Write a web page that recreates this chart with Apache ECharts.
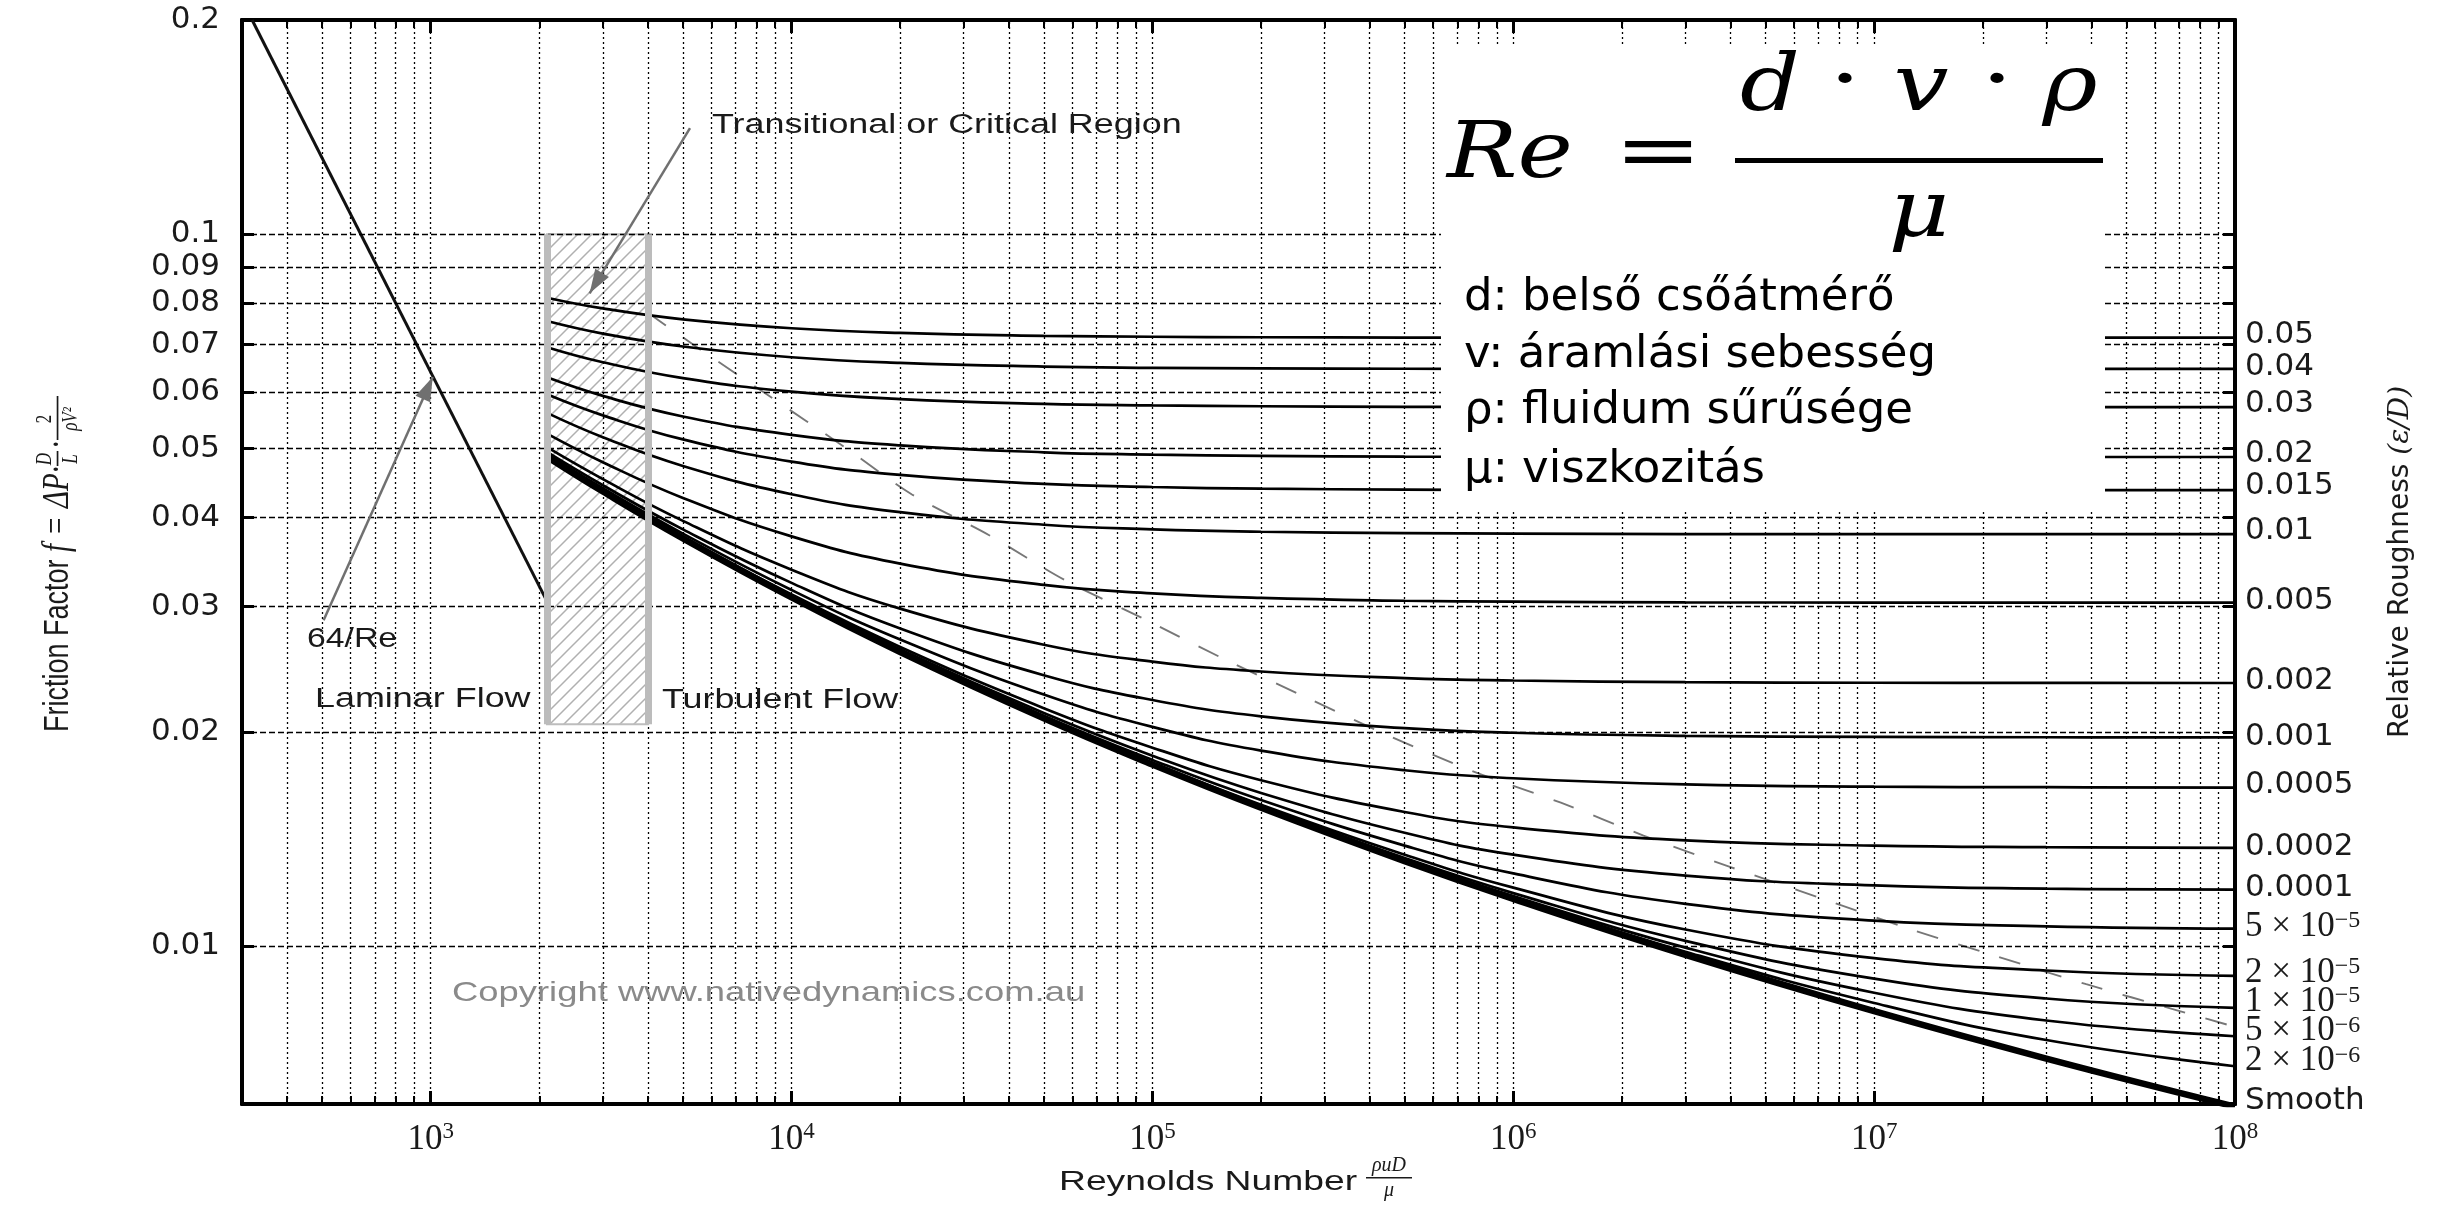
<!DOCTYPE html>
<html><head><meta charset="utf-8">
<script src="https://cdn.jsdelivr.net/npm/echarts@6/dist/echarts.min.js"></script>
<style>html,body{margin:0;padding:0;background:#fff}#c{width:2447px;height:1207px}</style>
</head><body><div id="c"></div>
<script>
// ---------------- data ----------------
const reynolds = [2100, 3000, 5000, 1e4, 2e4, 5e4, 1e5, 2e5, 5e5, 1e6, 3e6, 1e7, 3e7, 1e8];

const f_0_05  = [0.08145, 0.07867, 0.07594, 0.07379, 0.07268, 0.0720, 0.07178, 0.07167, 0.0716, 0.07158, 0.07156, 0.07156, 0.07156, 0.07156];
const f_0_04  = [0.07553, 0.07251, 0.06955, 0.06718, 0.06596, 0.06519, 0.06493, 0.0648, 0.06473, 0.0647, 0.06468, 0.06468, 0.06468, 0.06468];
const f_0_03  = [0.0694, 0.0661, 0.06279, 0.0601, 0.05867, 0.05778, 0.05748, 0.05733, 0.05723, 0.0572, 0.05718, 0.05718, 0.05718, 0.05718];
const f_0_02  = [0.06295, 0.05928, 0.05547, 0.05227, 0.05052, 0.0494, 0.04902, 0.04883, 0.04871, 0.04868, 0.04865, 0.04865, 0.04865, 0.04865];
const f_0_015 = [0.0596, 0.05567, 0.0515, 0.04793, 0.04591, 0.0446, 0.04415, 0.04392, 0.04378, 0.04374, 0.0437, 0.0437, 0.0437, 0.0437];
const f_0_01  = [0.05612, 0.05187, 0.04726, 0.04313, 0.0407, 0.03908, 0.0385, 0.0382, 0.03803, 0.03797, 0.03792, 0.0379, 0.0379, 0.0379];
const f_0_005 = [0.05248, 0.04784, 0.04262, 0.03763, 0.03446, 0.03217, 0.0313, 0.03084, 0.03056, 0.03047, 0.0304, 0.03038, 0.03037, 0.03037];
const f_0_002 = [0.05022, 0.04529, 0.03957, 0.03379, 0.02979, 0.02651, 0.0251, 0.02431, 0.02379, 0.02361, 0.02348, 0.02344, 0.02343, 0.02342];
const f_0_001 = [0.04945, 0.0444, 0.0385, 0.03238, 0.02794, 0.02402, 0.02217, 0.02103, 0.02024, 0.01994, 0.01974, 0.01967, 0.01965, 0.01964];
const f_5e_4  = [0.04913, 0.04397, 0.03797, 0.03164, 0.02696, 0.02256, 0.02032, 0.01882, 0.01766, 0.01721, 0.01687, 0.01675, 0.01672, 0.0167];
const f_2e_4  = [0.04889, 0.04372, 0.03761, 0.03119, 0.02632, 0.02159, 0.0190, 0.0171, 0.01543, 0.01468, 0.01408, 0.01384, 0.01377, 0.01374];
const f_1e_4  = [0.04879, 0.04361, 0.03752, 0.03103, 0.0261, 0.02125, 0.01851, 0.01641, 0.01443, 0.01344, 0.01256, 0.01217, 0.01204, 0.0120];
const f_5e_5  = [0.04875, 0.04356, 0.03745, 0.03097, 0.02601, 0.02107, 0.01826, 0.01604, 0.01384, 0.01265, 0.01146, 0.01086, 0.01066, 0.01058];
const f_2e_5  = [0.04872, 0.04353, 0.03741, 0.03092, 0.02594, 0.02097, 0.0181, 0.0158, 0.01344, 0.01208, 0.01055, 0.00962, 0.00924, 0.00908];
const f_1e_5  = [0.0487, 0.04352, 0.0374, 0.0309, 0.0259, 0.02093, 0.01805, 0.01573, 0.0133, 0.01187, 0.01017, 0.0090, 0.00844, 0.00819];
const f_5e_6  = [0.0487, 0.04351, 0.03739, 0.03089, 0.02589, 0.0209, 0.01802, 0.01568, 0.01323, 0.01176, 0.00995, 0.0086, 0.00786, 0.00747];
const f_2e_6  = [0.0487, 0.04351, 0.03739, 0.03089, 0.02589, 0.02089, 0.0180, 0.01566, 0.01319, 0.01169, 0.00982, 0.00832, 0.00738, 0.00678];
const f_smooth= [0.0487, 0.04351, 0.03739, 0.03089, 0.02589, 0.02089, 0.01799, 0.01564, 0.01316, 0.01165, 0.00972, 0.0081, 0.00695, 0.00595];

const roughnessLabels = ['0.05', '0.04', '0.03', '0.02', '0.015', '0.01', '0.005', '0.002', '0.001', '0.0005', '0.0002', '0.0001',
  '5 × 10^−5', '2 × 10^−5', '1 × 10^−5', '5 × 10^−6', '2 × 10^−6', 'Smooth'];
const frictionCurves = [f_0_05, f_0_04, f_0_03, f_0_02, f_0_015, f_0_01, f_0_005, f_0_002, f_0_001, f_5e_4, f_2e_4, f_1e_4,
  f_5e_5, f_2e_5, f_1e_5, f_5e_6, f_2e_6, f_smooth];

// laminar 64/Re line
const laminarRe = [320, 2080];
const laminarF  = [0.2, 0.0308];

// dashed boundary of the fully rough zone
const boundaryRe = [4000, 5358, 8655, 13977, 21560, 35200, 57000, 95000, 160800, 269700, 456900, 773600, 1355000, 2296000, 4020000, 7037000, 12320000, 21800000, 38700000, 68700000, 1e8];
const boundaryF  = [0.0776, 0.0699, 0.0593, 0.0503, 0.0431, 0.0378, 0.0327, 0.0288, 0.0252, 0.0223, 0.0197, 0.0176, 0.0159, 0.0143, 0.0129, 0.0117, 0.0106, 0.00968, 0.00884, 0.00813, 0.0077];

// transitional region
const transitionRe = [2100, 4000];
const transitionF  = [0.0205, 0.1];

// annotation arrows [from, to] in data units
const arrowTransitional = [[5231, 0.141], [2757, 0.0826]];
const arrowLaminar      = [[505, 0.0287], [1013, 0.063]];

// ticks
const xMajorTicks = [1e3, 1e4, 1e5, 1e6, 1e7, 1e8];
const xMajorExp   = ['3', '4', '5', '6', '7', '8'];
const xMinorTicks = [400, 500, 600, 700, 800, 900, 2000, 3000, 4000, 5000, 6000, 7000, 8000, 9000,
  2e4, 3e4, 4e4, 5e4, 6e4, 7e4, 8e4, 9e4, 2e5, 3e5, 4e5, 5e5, 6e5, 7e5, 8e5, 9e5,
  2e6, 3e6, 4e6, 5e6, 6e6, 7e6, 8e6, 9e6, 2e7, 3e7, 4e7, 5e7, 6e7, 7e7, 8e7, 9e7];
const yTicks      = [0.01, 0.02, 0.03, 0.04, 0.05, 0.06, 0.07, 0.08, 0.09, 0.1, 0.2];
const yTickLabels = ['0.01', '0.02', '0.03', '0.04', '0.05', '0.06', '0.07', '0.08', '0.09', '0.1', '0.2'];

// ---------------- styles ----------------
const INK = '#1a1a1a';
const ARROW = '#707070';
const TICKFONT = 'DejaVu Sans';
const labelNudge = [-3, -2, -3, -3, -4, -3, -2, -2, 0, -3, -1, -2, -2, -3, -6, -5, -5, -6];

function nearestIndex(arr, v) {
  let best = 0, bd = Infinity;
  arr.forEach((t, i) => { const d = Math.abs(Math.log10(t) - Math.log10(v)); if (d < bd) { bd = d; best = i; } });
  return best;
}
function fmtRough(lbl) {
  const p = lbl.split('^');
  return p.length === 2 ? '{n|' + p[0] + '}{sup|' + p[1] + '}' : '{s|' + lbl + '}';
}
function hatch() {
  const s = 14, c = document.createElement('canvas');
  c.width = s; c.height = s;
  const g = c.getContext('2d');
  g.strokeStyle = '#b0b0b0'; g.lineWidth = 1.5;
  g.beginPath();
  g.moveTo(0, s); g.lineTo(s, 0);
  g.moveTo(-2, 2); g.lineTo(2, -2);
  g.moveTo(s - 2, s + 2); g.lineTo(s + 2, s - 2);
  g.stroke();
  return c;
}

const allX = xMinorTicks.concat(xMajorTicks).sort((a, b) => a - b);
function xAxisDef(pos, ticks, len, w, withLabel) {
  return {
    type: 'log', logBase: 10, min: 300, max: 1e8, position: pos, gridIndex: 0,
    axisLine: { show: true, onZero: false, lineStyle: { color: '#000', width: 4 } },
    axisTick: { show: true, inside: true, length: len, customValues: ticks, lineStyle: { color: '#000', width: w } },
    axisLabel: withLabel ? {
      show: true, customValues: xMajorTicks, margin: 16,
      formatter: v => '{b|10}{s|' + xMajorExp[nearestIndex(xMajorTicks, v)] + '}',
      rich: {
        b: { fontFamily: 'Liberation Serif', fontSize: 35, color: INK, lineHeight: 40 },
        s: { fontFamily: 'Liberation Serif', fontSize: 23, color: INK, lineHeight: 22, verticalAlign: 'top' }
      }
    } : { show: false },
    splitLine: { show: false }, minorTick: { show: false }, minorSplitLine: { show: false }
  };
}
function yAxisDef(pos, withLabel) {
  return {
    type: 'log', logBase: 10, min: 0.006, max: 0.2, position: pos, gridIndex: 0,
    axisLine: { show: true, onZero: false, lineStyle: { color: '#000', width: 4 } },
    axisTick: { show: true, inside: true, length: 12, customValues: yTicks, lineStyle: { color: '#000', width: 3 } },
    axisLabel: withLabel ? {
      show: true, customValues: yTicks, margin: 22,
      fontFamily: TICKFONT, fontSize: 31, color: INK,
      formatter: v => yTickLabels[nearestIndex(yTicks, v)]
    } : { show: false },
    splitLine: { show: false }, minorTick: { show: false }, minorSplitLine: { show: false }
  };
}

const yRight = yAxisDef('right', false);
yRight.name = 'Relative Roughness {m|(ε/D)}';
yRight.nameLocation = 'middle';
yRight.nameRotate = 90;
yRight.nameGap = 152;
yRight.nameTextStyle = { fontFamily: TICKFONT, fontSize: 28, color: INK,
  rich: { m: { fontFamily: 'DejaVu Serif', fontStyle: 'italic', fontSize: 28, color: INK } } };

// grid lines through the axes' own scales
const gridLines = allX.filter(v => v < 1e8).map(v => ({ xAxis: v, lineStyle: { type: [2, 3], color: '#000', width: 1.3 } }))
  .concat(yTicks.filter(v => v < 0.2).map(v => ({ yAxis: v, lineStyle: { type: [6, 3], color: '#000', width: 1.3 } })));

const series = [];
series.push({
  type: 'line', name: 'grid', data: [], z: 1, silent: true,
  markLine: { silent: true, symbol: ['none', 'none'], label: { show: false }, animation: false, data: gridLines }
});
series.push({
  type: 'line', name: 'transition', data: [], z: 2, silent: true,
  markArea: { silent: true, label: { show: false },
    itemStyle: { color: { image: hatch(), repeat: 'repeat' }, borderColor: '#bdbdbd', borderWidth: 2 },
    data: [[{ coord: [transitionRe[0], transitionF[1]] }, { coord: [transitionRe[1], transitionF[0]] }]] },
  markLine: { silent: true, symbol: ['none', 'none'], label: { show: false }, animation: false,
    lineStyle: { type: 'solid', color: '#bcbcbc', width: 7 },
    data: [[{ coord: [transitionRe[0], transitionF[0]] }, { coord: [transitionRe[0], transitionF[1]] }],
           [{ coord: [transitionRe[1], transitionF[0]] }, { coord: [transitionRe[1], transitionF[1]] }]] }
});
series.push({
  type: 'line', name: 'arrows', data: [], z: 4, silent: true,
  markLine: { silent: true, symbol: ['none', 'none'], label: { show: false }, animation: false,
    lineStyle: { type: 'solid', color: ARROW, width: 2.5 },
    data: [[{ coord: arrowTransitional[0] }, { coord: arrowTransitional[1] }],
           [{ coord: arrowLaminar[0] }, { coord: arrowLaminar[1] }]] }
});
series.push({
  type: 'line', name: '64/Re', data: laminarRe.map((r, i) => [r, laminarF[i]]),
  showSymbol: false, symbol: 'none', lineStyle: { color: '#111', width: 3 }, z: 3, silent: true
});
series.push({
  type: 'line', name: 'boundary', data: boundaryRe.map((r, i) => [r, boundaryF[i]]),
  showSymbol: false, symbol: 'none', smooth: 0.3,
  lineStyle: { color: '#777', width: 1.9, type: [22, 21] }, z: 3, silent: true
});
frictionCurves.forEach((arr, k) => {
  const lbl = roughnessLabels[k];
  series.push({
    type: 'line', name: lbl, data: reynolds.map((r, i) => [r, arr[i]]),
    showSymbol: false, symbol: 'none', smooth: 0.45, clip: true, silent: true, z: 3,
    lineStyle: { color: '#000', width: lbl === 'Smooth' ? 6.5 : 2.7 },
    endLabel: {
      show: true, distance: 10, offset: [0, labelNudge[k]], color: INK,
      formatter: () => fmtRough(lbl),
      rich: {
        s: { fontFamily: TICKFONT, fontSize: 31, color: INK },
        n: { fontFamily: 'Liberation Serif', fontSize: 35, color: INK, lineHeight: 36 },
        sup: { fontFamily: 'Liberation Serif', fontSize: 24, color: INK, lineHeight: 22, verticalAlign: 'top' }
      }
    }
  });
});

// ---------------- texts ----------------
function T(x, y, text, o) {
  return Object.assign({ type: 'text', x: x, y: y, z: 60, silent: true,
    style: Object.assign({ text: text, fill: INK, align: 'left', verticalAlign: 'middle',
      fontFamily: 'Liberation Sans', fontSize: 27 }, o.style || {}) }, o.el || {});
}
const serifIt = { fontFamily: 'Liberation Serif', fontStyle: 'italic' };
const mathIt = { fontFamily: 'DejaVu Serif', fontStyle: 'italic', fontSize: 78, fill: '#000', align: 'center' };
const mathUp = { fontFamily: 'DejaVu Serif', fontSize: 78, fill: '#000', align: 'center' };
const boxText = { fontFamily: 'DejaVu Sans', fontSize: 45, fill: '#000' };
const graphic = [
  // annotations
  T(712, 126, 'Transitional or Critical Region', { el: { scaleX: 1.33 } }),
  T(315, 700, 'Laminar Flow', { el: { scaleX: 1.33 } }),
  T(662, 701, 'Turbulent Flow', { el: { scaleX: 1.33 } }),
  T(307, 640, '64/Re', { el: { scaleX: 1.25 } }),
  T(452, 993, 'Copyright www.nativedynamics.com.au', { el: { scaleX: 1.3 }, style: { fill: '#8a8a8a', fontSize: 28 } }),
  // x axis title
  T(1059, 1182, 'Reynolds Number', { el: { scaleX: 1.33 }, style: { fontSize: 28 } }),
  T(1389, 1166, 'ρuD', { style: Object.assign({ fontSize: 20, align: 'center' }, serifIt) }),
  { type: 'rect', z: 60, silent: true, shape: { x: 1366, y: 1177, width: 46, height: 1.6 }, style: { fill: INK } },
  T(1389, 1191, 'μ', { style: Object.assign({ fontSize: 20, align: 'center' }, serifIt) }),
  // y axis title (rotated)
  { type: 'group', x: 58, y: 732, rotation: Math.PI / 2, scaleY: 1.3, z: 60, silent: true, children: [
    T(0, 0, 'Friction Factor', {}),
    T(180, 0, 'f', { style: Object.assign({ fontSize: 29 }, serifIt) }),
    T(198, 0, '=', { style: { fontFamily: 'Liberation Serif', fontSize: 29 } }),
    T(224, 0, 'ΔP', { style: Object.assign({ fontSize: 29 }, serifIt) }),
    T(258, 0, '·', { style: { fontFamily: 'Liberation Serif', fontSize: 29 } }),
    T(273, -10, 'D', { style: Object.assign({ fontSize: 17, align: 'center' }, serifIt) }),
    { type: 'rect', shape: { x: 266, y: -1, width: 15, height: 1.3 }, style: { fill: INK } },
    T(273, 10, 'L', { style: Object.assign({ fontSize: 17, align: 'center' }, serifIt) }),
    T(283, 0, '·', { style: { fontFamily: 'Liberation Serif', fontSize: 29 } }),
    T(313, -10, '2', { style: { fontFamily: 'Liberation Serif', fontSize: 17, align: 'center' } }),
    { type: 'rect', shape: { x: 292, y: -1, width: 44, height: 1.3 }, style: { fill: INK } },
    T(313, 10, 'ρV²', { style: Object.assign({ fontSize: 17, align: 'center' }, serifIt) })
  ] },
  // formula box
  { type: 'rect', z: 100, silent: true, shape: { x: 1441, y: 45, width: 664, height: 465 }, style: { fill: '#fff' } },
  T(1510, 157, 'Re', { el: { z: 101, scaleX: 1.2 }, style: mathIt }),
  T(1658, 157, '=', { el: { z: 101, scaleX: 1.35 }, style: mathUp }),
  T(1770, 90, 'd', { el: { z: 101, scaleX: 1.2 }, style: mathIt }),
  T(1845, 85, '·', { el: { z: 101, scaleX: 1.3 }, style: mathUp }),
  T(1921, 90, 'v', { el: { z: 101, scaleX: 1.25 }, style: mathIt }),
  T(1997, 85, '·', { el: { z: 101, scaleX: 1.3 }, style: mathUp }),
  T(2070, 90, 'ρ', { el: { z: 101, scaleX: 1.2 }, style: mathIt }),
  { type: 'rect', z: 101, silent: true, shape: { x: 1735, y: 158, width: 368, height: 5 }, style: { fill: '#000' } },
  T(1919, 216, 'μ', { el: { z: 101, scaleX: 1.2 }, style: mathIt }),
  T(1464, 298, 'd: belső csőátmérő', { el: { z: 101 }, style: boxText }),
  T(1464, 355, 'v: áramlási sebesség', { el: { z: 101 }, style: boxText }),
  T(1464, 411, 'ρ: fluidum sűrűsége', { el: { z: 101 }, style: boxText }),
  T(1464, 470, 'μ: viszkozitás', { el: { z: 101 }, style: boxText })
];

const chart = echarts.init(document.getElementById('c'), null, { renderer: 'canvas', width: 2447, height: 1207 });
chart.setOption({
  animation: false,
  backgroundColor: '#fff',
  grid: { left: 242, right: 212, top: 20, bottom: 103 },
  xAxis: [xAxisDef('bottom', allX, 8, 2, true), xAxisDef('top', allX, 8, 2, false),
          xAxisDef('bottom', xMajorTicks, 13, 3, false), xAxisDef('top', xMajorTicks, 13, 3, false)],
  yAxis: [yAxisDef('left', true), yRight],
  series: series,
  graphic: graphic
});

// arrowheads placed through the chart's own coordinate conversion
function head(a) {
  const p0 = chart.convertToPixel({ xAxisIndex: 0, yAxisIndex: 0 }, a[0]);
  const p1 = chart.convertToPixel({ xAxisIndex: 0, yAxisIndex: 0 }, a[1]);
  const ang = Math.atan2(p1[1] - p0[1], p1[0] - p0[0]);
  const L = 24, W = 8;
  const bx = p1[0] - L * Math.cos(ang), by = p1[1] - L * Math.sin(ang);
  const nx = -Math.sin(ang) * W, ny = Math.cos(ang) * W;
  return { type: 'polygon', z: 61, silent: true,
    shape: { points: [[p1[0], p1[1]], [bx + nx, by + ny], [bx - nx, by - ny]] }, style: { fill: ARROW } };
}
chart.setOption({ graphic: graphic.concat([head(arrowTransitional), head(arrowLaminar)]) });
</script>
</body></html>
